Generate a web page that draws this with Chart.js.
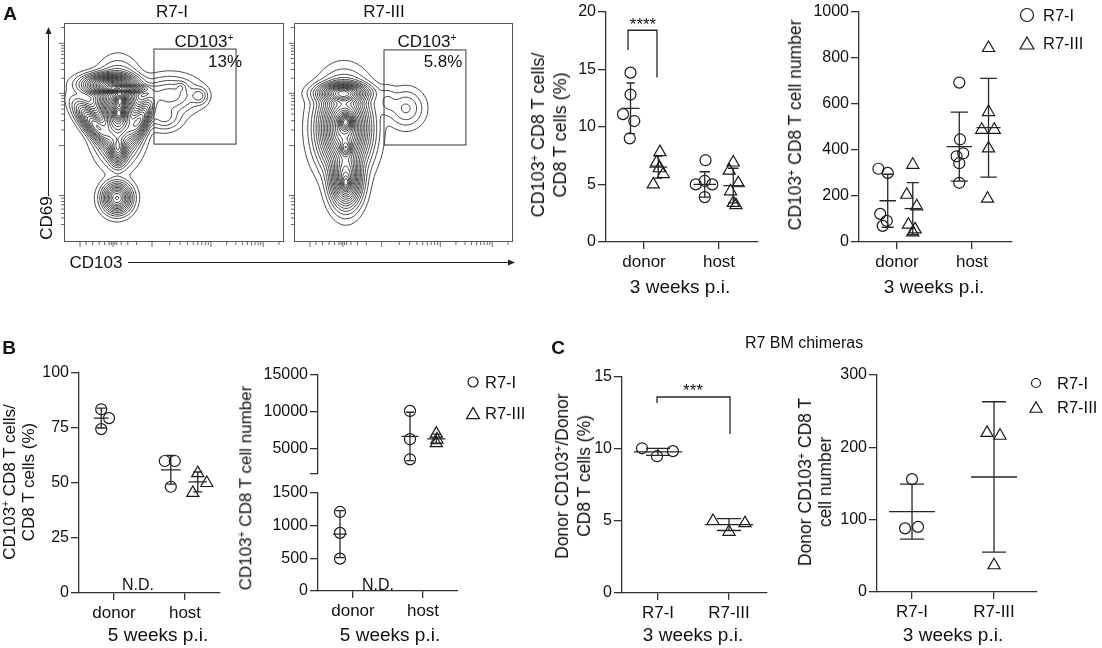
<!DOCTYPE html>
<html>
<head>
<meta charset="utf-8">
<title>CD103+ CD8 T cells in R7 mice</title>
<script src="https://cdn.jsdelivr.net/npm/chart.js@4.4.1/dist/chart.umd.min.js"></script>
<style>
  html, body { margin: 0; padding: 0; background: #fff; }
  #fig { position: relative; width: 1102px; height: 648px; overflow: hidden;
         font-family: "Liberation Sans", Arial, Helvetica, sans-serif; color: #111; }
  #fig canvas { position: absolute; left: 0; top: 0; }
  .lbl { position: absolute; white-space: nowrap; line-height: 1.15; text-align: center; }
  .lbl sup { font-size: 0.6em; vertical-align: 0.6em; line-height: 0; }
</style>
</head>
<body>
<div id="fig"></div>
<script>
// ---------- data ----------
const cats = ['donor', 'host'];
const catsC = ['R7-I', 'R7-III'];

// A, 3 weeks p.i.: CD103+ CD8 T cells / CD8 T cells (%)
const a1DonorR7I = [14.7, 12.8, 11.1, 10.5, 9.0];
const a1DonorR7III = [7.8, 6.9, 6.4, 5.9, 5.0];
const a1HostR7I = [7.1, 5.3, 5.0, 5.0, 3.9];
const a1HostR7III = [6.9, 6.2, 5.1, 4.4, 3.4, 3.2];
const a1Mean = [11.6, 6.5, 5.0, 4.9];      // donor I, donor III, host I, host III
const a1Sd = [2.2, 0.95, 1.1, 1.5];
const a1Ticks = [0, 5, 10, 15, 20];

// A, 3 weeks p.i.: CD103+ CD8 T cell number
const a2DonorR7I = [318, 300, 122, 92, 70];
const a2DonorR7III = [335, 205, 155, 75, 55, 42];
const a2HostR7I = [692, 445, 385, 372, 342, 257];
const a2HostR7III = [842, 564, 487, 487, 406, 188];
const a2Mean = [179, 145, 414, 496];
const a2Sd = [115, 113, 150, 214];
const a2Ticks = [0, 200, 400, 600, 800, 1000];

// B, 5 weeks p.i. (R7-III donor not detected)
const b1DonorR7I = [83.5, 79.5, 74.5];
const b1HostR7I = [60, 60, 48.3];
const b1HostR7III = [54.5, 50, 45.5];
const b1Mean = [79.5, 56, 50.5];            // donor I, host I, host III
const b1Sd = [4.5, 6.5, 4.5];
const b1Ticks = [0, 25, 50, 75, 100];

const b2DonorR7I = [1210, 890, 495];
const b2HostR7I = [10100, 6250, 3500];
const b2HostR7III = [7000, 6200, 5700];
const b2Mean = [870, 6620, 6300];
const b2Sd = [360, 3300, 650];
const b2LowTicks = [0, 500, 1000, 1500];
const b2HighTicks = [1500, 5000, 10000, 15000];

// C, R7 BM chimeras, 3 weeks p.i.
const c1R7I = [10.05, 9.5, 9.85];
const c1R7III = [5.0, 4.25, 4.85];
const c1Mean = [9.8, 4.75];
const c1Sd = [0.24, 0.41];
const c1Ticks = [0, 5, 10, 15];

const c2R7I = [156, 88, 90];
const c2R7III = [220, 216, 37];
const c2Mean = [111, 159];
const c2Sd = [38, 104];
const c2Ticks = [0, 100, 200, 300];

// flow plots: density model (cx, cy, sigmaU, sigmaV, weight, angle deg) in plot units 0-100
const flowBlobsR7I = [
  [21, 72, 5.8, 2.3, 0.4, 0],
  [25.5, 69.9, 5.5, 1.1, 0.35, 0],
  [25.5, 64.8, 1.4, 1.8, 0.3, 0],
  [25, 58.9, 1.4, 2, 0.3, 0],
  [24.5, 58, 4.5, 8.2, 0.5, 0],
  [14.1, 53.4, 6, 2.2, 0.25, -50],
  [34.5, 55.7, 5.5, 2.2, 0.25, 63],
  [24.5, 42, 2, 3.5, 0.2, 0],
  [24.1, 20.1, 3.2, 3.4, 0.22, 0],
  [48.2, 67.1, 6.5, 4.2, 0.04, 0],
  [45.5, 57, 4, 3, 0.025, 0],
  [53.2, 70.8, 1.3, 1.3, 0.015, 0],
  [61.4, 66.7, 2.0, 2.0, 0.025, 0]
];
const flowBlobsR7III = [
  [22.4, 68, 5.5, 2.3, 0.35, 0],
  [22.8, 52, 5.5, 9, 0.45, 0],
  [23.7, 54.8, 1.8, 2.2, 0.35, 0],
  [23.7, 42.9, 1.5, 2, 0.2, 0],
  [23.7, 29.2, 3.5, 6.5, 0.3, 0],
  [23.7, 26.9, 1.2, 2, 0.15, 0],
  [51.1, 61, 4.2, 4.4, 0.022, 0],
  [42.5, 64, 2.5, 3.5, 0.012, 0]
];
const gateR7I = [40.9, 78.2, 44.7, 88.1];   // xMin, xMax, yMin, yMax
const gateR7III = [41.1, 78.5, 44.3, 87.7];
const gateFreq = ['13%', '5.8%'];
const flowXMajor = [7.3, 22.3, 40, 66.8, 90.5];
const flowYMajor = [90.7, 67.9, 44, 21.2];

// ---------- helpers ----------
const fig = document.getElementById('fig');
const W = 1102, H = 648, YW = 70, XH = 40;
Chart.defaults.font.family = '"Liberation Sans", Arial, Helvetica, sans-serif';
Chart.defaults.color = '#111';

function newCanvas() {
  const cv = document.createElement('canvas');
  cv.width = W; cv.height = H;
  fig.appendChild(cv);
  return cv;
}

function label(html, x, y, o = {}) {
  const d = document.createElement('div');
  d.className = 'lbl';
  d.innerHTML = html;
  d.style.left = x + 'px';
  d.style.top = y + 'px';
  d.style.fontSize = (o.size || 17) + 'px';
  if (o.lh) d.style.lineHeight = o.lh + 'px';
  if (o.bold) d.style.fontWeight = 'bold';
  d.style.transform = 'translate(' + (o.left ? '0' : '-50%') + ', -50%)' + (o.rot ? ' rotate(-90deg)' : '');
  fig.appendChild(d);
}

function triPath(ctx, x, y, r) {
  ctx.moveTo(x, y - r);
  ctx.lineTo(x + r * 0.866, y + r / 2);
  ctx.lineTo(x - r * 0.866, y + r / 2);
  ctx.closePath();
}

function markPlugin(cfg) {
  return {
    id: 'marks',
    afterDatasetsDraw(chart) {
      const { ctx, scales: { x, y } } = chart;
      ctx.save();
      ctx.strokeStyle = '#262626';
      ctx.lineWidth = 1.3;
      ctx.beginPath();
      cfg.groups.forEach(g => {
        const cx = x.getPixelForValue(g.pos);
        const hw = x.getPixelForValue(g.pos + (g.mw || cfg.mw)) - cx;
        const cw = x.getPixelForValue(g.pos + (g.cw || cfg.cw)) - cx;
        const ym = y.getPixelForValue(g.mean);
        const yt = y.getPixelForValue(g.mean + g.sd);
        const yb = y.getPixelForValue(g.mean - g.sd);
        ctx.moveTo(cx - hw, ym); ctx.lineTo(cx + hw, ym);
        ctx.moveTo(cx, yt); ctx.lineTo(cx, yb);
        ctx.moveTo(cx - cw, yt); ctx.lineTo(cx + cw, yt);
        ctx.moveTo(cx - cw, yb); ctx.lineTo(cx + cw, yb);
      });
      if (cfg.bracket) {
        const [x1, x2, yTop, yL, yR] = cfg.bracket;
        ctx.moveTo(x.getPixelForValue(x1), y.getPixelForValue(yL));
        ctx.lineTo(x.getPixelForValue(x1), y.getPixelForValue(yTop));
        ctx.lineTo(x.getPixelForValue(x2), y.getPixelForValue(yTop));
        ctx.lineTo(x.getPixelForValue(x2), y.getPixelForValue(yR));
      }
      ctx.stroke();
      if (cfg.legend) {
        const L = cfg.legend;
        ctx.lineWidth = 1.2;
        ctx.strokeStyle = '#1a1a1a';
        ctx.beginPath();
        ctx.arc(L.x, L.y, L.rc, 0, Math.PI * 2);
        ctx.stroke();
        ctx.beginPath();
        triPath(ctx, L.x, L.y + L.dy + L.rt / 4, L.rt);
        ctx.stroke();
      }
      ctx.restore();
    }
  };
}

function dotChart(cfg) {
  const showX = !!cfg.cats;
  const datasets = cfg.groups.map(g => ({
    data: g.values.map((v, i) => ({ x: g.pos + (g.jit[i] || 0), y: v })),
    pointStyle: g.sym,
    pointRadius: g.sym === 'triangle' ? 7 : 5.5,
    borderColor: '#1a1a1a',
    borderWidth: 1.2,
    backgroundColor: 'rgba(0,0,0,0)',
    clip: false
  }));
  return new Chart(newCanvas(), {
    type: 'scatter',
    data: { datasets },
    options: {
      responsive: false, animation: false, events: [],
      layout: { padding: { left: cfg.x0 - YW, right: W - cfg.x1, top: cfg.top,
                           bottom: H - cfg.bottom - (showX ? XH : 0) } },
      plugins: { legend: { display: false }, tooltip: { enabled: false } },
      scales: {
        x: {
          type: 'linear', display: showX, min: cfg.xMin, max: cfg.xMax,
          afterBuildTicks: s => { s.ticks = [{ value: 1 }, { value: 2 }]; },
          afterFit: s => { s.height = showX ? XH : 0; },
          ticks: { callback: v => showX ? cfg.cats[Math.round(v) - 1] : '', font: { size: 17 },
                   color: '#111', padding: 3, maxRotation: 0, autoSkip: false },
          grid: { drawOnChartArea: false, tickLength: 7, color: '#333', lineWidth: 1.3 },
          border: { color: '#333', width: 1.3 }
        },
        y: {
          type: 'linear', min: cfg.yMin, max: cfg.yMax,
          afterBuildTicks: s => { s.ticks = cfg.yTicks.map(v => ({ value: v })); },
          afterFit: s => { s.width = YW; },
          ticks: { callback: v => (cfg.hideTick === v ? '' : String(v)), font: { size: 16 },
                   color: '#111', padding: 2, autoSkip: false },
          grid: { drawOnChartArea: false, tickLength: 8, color: '#333', lineWidth: 1.3 },
          border: { color: '#333', width: 1.3 }
        }
      }
    },
    plugins: [markPlugin(cfg)]
  });
}

// marching squares over a gaussian-mixture density
function contourSegments(blobs, n, nLevels) {
  const st = 100 / n, g = [];
  let mx = 0;
  for (let j = 0; j <= n; j++) {
    const row = new Float64Array(n + 1);
    for (let i = 0; i <= n; i++) {
      const px = i * st, py = j * st;
      let f = 0;
      for (const [cx, cy, su, sv, w, a] of blobs) {
        const t = a * Math.PI / 180, dx = px - cx, dy = py - cy;
        const u = dx * Math.cos(t) + dy * Math.sin(t);
        const v = -dx * Math.sin(t) + dy * Math.cos(t);
        f += w * Math.exp(-(u * u / (2 * su * su) + v * v / (2 * sv * sv)));
      }
      row[i] = f;
      if (f > mx) mx = f;
    }
    g.push(row);
  }
  const segs = [];
  for (let k = 1; k < nLevels; k++) {
    const L = mx * Math.pow(k / nLevels, 2);
    for (let j = 0; j < n; j++) {
      for (let i = 0; i < n; i++) {
        const v = [g[j][i], g[j][i + 1], g[j + 1][i + 1], g[j + 1][i]];
        const c = [[i, j], [i + 1, j], [i + 1, j + 1], [i, j + 1]];
        const pts = [];
        for (let e = 0; e < 4; e++) {
          const a = v[e], b = v[(e + 1) % 4];
          if ((a - L) * (b - L) < 0) {
            const t = (L - a) / (b - a), p = c[e], q = c[(e + 1) % 4];
            pts.push([(p[0] + t * (q[0] - p[0])) * st, (p[1] + t * (q[1] - p[1])) * st]);
          }
        }
        if (pts.length === 2) segs.push(pts);
        else if (pts.length === 4) { segs.push([pts[0], pts[1]]); segs.push([pts[2], pts[3]]); }
      }
    }
  }
  return segs;
}

function minorTicks(majors, span) {
  const out = [];
  for (let m = 1; m < majors.length; m++) {
    const d = majors[m], step = m + 1 < majors.length ? majors[m + 1] - d : span;
    for (let k = 2; k <= 9; k++) {
      const t = d + Math.log10(k) * step;
      if (t < 100) out.push(t);
    }
  }
  return out;
}

function flowChart(cfg) {
  const segs = contourSegments(cfg.blobs, 170, 25);
  const plugin = {
    id: 'flow',
    afterDraw(chart) {
      const { ctx, chartArea: A, scales: { x, y } } = chart;
      ctx.save();
      // contours
      ctx.strokeStyle = '#111';
      ctx.lineWidth = 0.8;
      ctx.beginPath();
      segs.forEach(([p, q]) => {
        ctx.moveTo(x.getPixelForValue(p[0]), y.getPixelForValue(p[1]));
        ctx.lineTo(x.getPixelForValue(q[0]), y.getPixelForValue(q[1]));
      });
      ctx.stroke();
      // frame
      ctx.strokeStyle = '#555';
      ctx.lineWidth = 1;
      ctx.strokeRect(A.left + 0.5, A.top + 0.5, A.right - A.left - 1, A.bottom - A.top - 1);
      // gate
      const [gx1, gx2, gy1, gy2] = cfg.gate;
      ctx.strokeStyle = '#333';
      ctx.strokeRect(x.getPixelForValue(gx1), y.getPixelForValue(gy2),
                     x.getPixelForValue(gx2) - x.getPixelForValue(gx1),
                     y.getPixelForValue(gy1) - y.getPixelForValue(gy2));
      // log-style ticks
      ctx.strokeStyle = '#666';
      ctx.beginPath();
      flowYMajor.forEach(v => { const p = y.getPixelForValue(v); ctx.moveTo(A.left, p); ctx.lineTo(A.left - 5, p); });
      minorTicks(flowYMajor.slice().reverse(), 24).forEach(v => { const p = y.getPixelForValue(v); ctx.moveTo(A.left, p); ctx.lineTo(A.left - 3, p); });
      [20, 18.5, 17, 15, 13, 11, 8].forEach(v => { const p = y.getPixelForValue(v); ctx.moveTo(A.left, p); ctx.lineTo(A.left - 3, p); });
      flowXMajor.forEach(v => { const p = x.getPixelForValue(v); ctx.moveTo(p, A.bottom); ctx.lineTo(p, A.bottom + 5); });
      minorTicks(flowXMajor.slice(1), 24).forEach(v => { const p = x.getPixelForValue(v); ctx.moveTo(p, A.bottom); ctx.lineTo(p, A.bottom + 3); });
      [10, 13, 16, 18.5, 20.5, 21.5, 23.1, 24, 26, 29, 33].forEach(v => { const p = x.getPixelForValue(v); ctx.moveTo(p, A.bottom); ctx.lineTo(p, A.bottom + 3); });
      ctx.stroke();
      if (cfg.arrows) {
        ctx.strokeStyle = '#222';
        ctx.fillStyle = '#222';
        ctx.lineWidth = 1;
        ctx.beginPath();
        ctx.moveTo(48.5, 196); ctx.lineTo(48.5, 32);
        ctx.moveTo(128, 262.5); ctx.lineTo(510, 262.5);
        ctx.stroke();
        ctx.beginPath();
        ctx.moveTo(48.5, 27); ctx.lineTo(45.5, 34); ctx.lineTo(51.5, 34); ctx.closePath();
        ctx.moveTo(515, 262.5); ctx.lineTo(508, 259.5); ctx.lineTo(508, 265.5); ctx.closePath();
        ctx.fill();
      }
      ctx.restore();
    }
  };
  return new Chart(newCanvas(), {
    type: 'scatter',
    data: { datasets: [] },
    options: {
      responsive: false, animation: false, events: [],
      layout: { padding: { left: cfg.x0, right: W - cfg.x1, top: cfg.top, bottom: H - cfg.bottom } },
      plugins: { legend: { display: false }, tooltip: { enabled: false } },
      scales: { x: { display: false, min: 0, max: 100 }, y: { display: false, min: 0, max: 100 } }
    },
    plugins: [plugin]
  });
}

// ---------- panel A ----------
flowChart({ x0: 64, x1: 284, top: 23, bottom: 242, blobs: flowBlobsR7I, gate: gateR7I, arrows: true });
flowChart({ x0: 294, x1: 513, top: 23, bottom: 242, blobs: flowBlobsR7III, gate: gateR7III });

dotChart({
  x0: 606, x1: 758, top: 8, bottom: 242, xMin: 0.493, xMax: 2.52,
  yMin: 0, yMax: 20, yTicks: a1Ticks, cats: cats, mw: 0.12, cw: 0.055,
  groups: [
    { values: a1DonorR7I, pos: 0.82, jit: [0, 0, -0.1, 0.05, -0.01], sym: 'circle', mean: a1Mean[0], sd: a1Sd[0] },
    { values: a1DonorR7III, pos: 1.19, jit: [0.022, -0.022, 0.013, 0.067, -0.067], sym: 'triangle', mean: a1Mean[1], sd: a1Sd[1] },
    { values: a1HostR7I, pos: 1.81, jit: [0.01, 0, -0.12, 0.1, 0], sym: 'circle', mean: a1Mean[2], sd: a1Sd[2], mw: 0.15, cw: 0.07 },
    { values: a1HostR7III, pos: 2.19, jit: [0, -0.053, 0.067, -0.036, 0, 0.036], sym: 'triangle', mean: a1Mean[3], sd: a1Sd[3], mw: 0.13, cw: 0.07 }
  ],
  bracket: [0.787, 1.173, 18.38, 16.67, 14.27]
});

dotChart({
  x0: 859, x1: 1012, top: 8, bottom: 242, xMin: 0.493, xMax: 2.533,
  yMin: 0, yMax: 1000, yTicks: a2Ticks, cats: cats, mw: 0.11, cw: 0.08,
  groups: [
    { values: a2DonorR7I, pos: 0.876, jit: [-0.124, 0, -0.1, -0.013, -0.067], sym: 'circle', mean: a2Mean[0], sd: a2Sd[0] },
    { values: a2DonorR7III, pos: 1.21, jit: [0, -0.08, 0.053, -0.058, 0.031, 0], sym: 'triangle', mean: a2Mean[1], sd: a2Sd[1] },
    { values: a2HostR7I, pos: 1.83, jit: [0, 0.01, 0.053, -0.036, 0, 0], sym: 'circle', mean: a2Mean[2], sd: a2Sd[2], mw: 0.17, cw: 0.115 },
    { values: a2HostR7III, pos: 2.22, jit: [0, 0, -0.09, 0.076, 0, -0.013], sym: 'triangle', mean: a2Mean[3], sd: a2Sd[3], mw: 0.16, cw: 0.11 }
  ],
  legend: { x: 1027, y: 15, dy: 28, rc: 6.5, rt: 8 }
});

// ---------- panel B ----------
dotChart({
  x0: 79, x1: 220, top: 373, bottom: 593, xMin: 0.507, xMax: 2.493,
  yMin: 0, yMax: 100, yTicks: b1Ticks, cats: cats, mw: 0.14, cw: 0.063,
  groups: [
    { values: b1DonorR7I, pos: 0.82, jit: [0, 0.11, 0], sym: 'circle', mean: b1Mean[0], sd: b1Sd[0], mw: 0.105 },
    { values: b1HostR7I, pos: 1.8, jit: [-0.085, 0.056, 0], sym: 'circle', mean: b1Mean[1], sd: b1Sd[1] },
    { values: b1HostR7III, pos: 2.18, jit: [0, 0.127, -0.07], sym: 'triangle', mean: b1Mean[2], sd: b1Sd[2], mw: 0.13 }
  ]
});

dotChart({
  x0: 318, x1: 458, top: 493, bottom: 591, xMin: 0.5, xMax: 2.5,
  yMin: 0, yMax: 1500, yTicks: b2LowTicks, cats: cats, mw: 0.1, cw: 0.064,
  groups: [
    { values: b2DonorR7I, pos: 0.814, jit: [0, 0, 0], sym: 'circle', mean: b2Mean[0], sd: b2Sd[0] }
  ]
});

dotChart({
  x0: 318, x1: 458, top: 375, bottom: 474, xMin: 0.5, xMax: 2.5,
  yMin: 1500, yMax: 15000, yTicks: b2HighTicks, hideTick: 1500, cats: null, mw: 0.12, cw: 0.057,
  groups: [
    { values: b2HostR7I, pos: 1.814, jit: [0, 0, 0], sym: 'circle', mean: b2Mean[1], sd: b2Sd[1] },
    { values: b2HostR7III, pos: 2.19, jit: [0, 0.01, 0], sym: 'triangle', mean: b2Mean[2], sd: b2Sd[2], mw: 0.13 }
  ],
  legend: { x: 473, y: 382, dy: 31, rc: 5, rt: 7.5 }
});

// ---------- panel C ----------
dotChart({
  x0: 622, x1: 767, top: 377, bottom: 593, xMin: 0.493, xMax: 2.535,
  yMin: 0, yMax: 15, yTicks: c1Ticks, cats: catsC, mw: 0.34, cw: 0.17,
  groups: [
    { values: c1R7I, pos: 1, jit: [-0.225, -0.014, 0.21], sym: 'circle', mean: c1Mean[0], sd: c1Sd[0] },
    { values: c1R7III, pos: 2, jit: [-0.225, 0, 0.225], sym: 'triangle', mean: c1Mean[1], sd: c1Sd[1] }
  ],
  bracket: [0.986, 2.014, 13.61, 13.19, 11.04]
});

dotChart({
  x0: 877, x1: 1037, top: 375, bottom: 592, xMin: 0.573, xMax: 2.524,
  yMin: 0, yMax: 300, yTicks: c2Ticks, cats: catsC, mw: 0.28, cw: 0.146,
  groups: [
    { values: c2R7I, pos: 1, jit: [0, -0.085, 0.073], sym: 'circle', mean: c2Mean[0], sd: c2Sd[0] },
    { values: c2R7III, pos: 2, jit: [-0.085, 0.073, 0], sym: 'triangle', mean: c2Mean[1], sd: c2Sd[1] }
  ],
  legend: { x: 1036, y: 383, dy: 24, rc: 4.5, rt: 7 }
});

// ---------- text ----------
label('A', 10, 14, { size: 19, bold: true });
label('R7-I', 172, 12);
label('R7-III', 384, 12);
label('CD103<sup>+</sup>', 204, 42);
label(gateFreq[0], 225, 62);
label('CD103<sup>+</sup>', 427, 42);
label(gateFreq[1], 443, 62);
label('CD69', 47, 218, { rot: true });
label('CD103', 96, 263);
label('CD103<sup>+</sup> CD8 T cells/<br>CD8 T cells (%)', 549, 135, { rot: true, size: 18, lh: 22 });
label('****', 643, 25, { size: 17 });
label('3 weeks p.i.', 680, 287, { size: 19 });
label('CD103<sup>+</sup> CD8 T cell number', 795, 125, { rot: true, size: 17.5 });
label('3 weeks p.i.', 934, 287, { size: 19 });
label('R7-I', 1043, 15, { left: true, size: 16.5 });
label('R7-III', 1043, 43, { left: true, size: 16.5 });

label('B', 9, 348, { size: 19, bold: true });
label('CD103<sup>+</sup> CD8 T cells/<br>CD8 T cells (%)', 19, 482, { rot: true, size: 17, lh: 19 });
label('N.D.', 138, 585, { size: 16 });
label('5 weeks p.i.', 158, 635, { size: 19 });
label('CD103<sup>+</sup> CD8 T cell number', 246, 488, { rot: true, size: 17 });
label('N.D.', 378, 585, { size: 16 });
label('5 weeks p.i.', 390, 635, { size: 19 });
label('R7-I', 485, 382, { left: true, size: 16.5 });
label('R7-III', 485, 413, { left: true, size: 16.5 });

label('C', 558, 348, { size: 19, bold: true });
label('R7 BM chimeras', 804, 343, { size: 16 });
label('Donor CD103<sup>+</sup>/Donor<br>CD8 T cells (%)', 573, 476, { rot: true, size: 17.5, lh: 22 });
label('***', 693, 391, { size: 17 });
label('3 weeks p.i.', 693, 635, { size: 19 });
label('Donor CD103<sup>+</sup> CD8 T<br>cell number', 815, 482, { rot: true, size: 17.5, lh: 20 });
label('3 weeks p.i.', 953, 635, { size: 19 });
label('R7-I', 1057, 383, { left: true, size: 16.5 });
label('R7-III', 1057, 407, { left: true, size: 16.5 });
</script>
</body>
</html>
